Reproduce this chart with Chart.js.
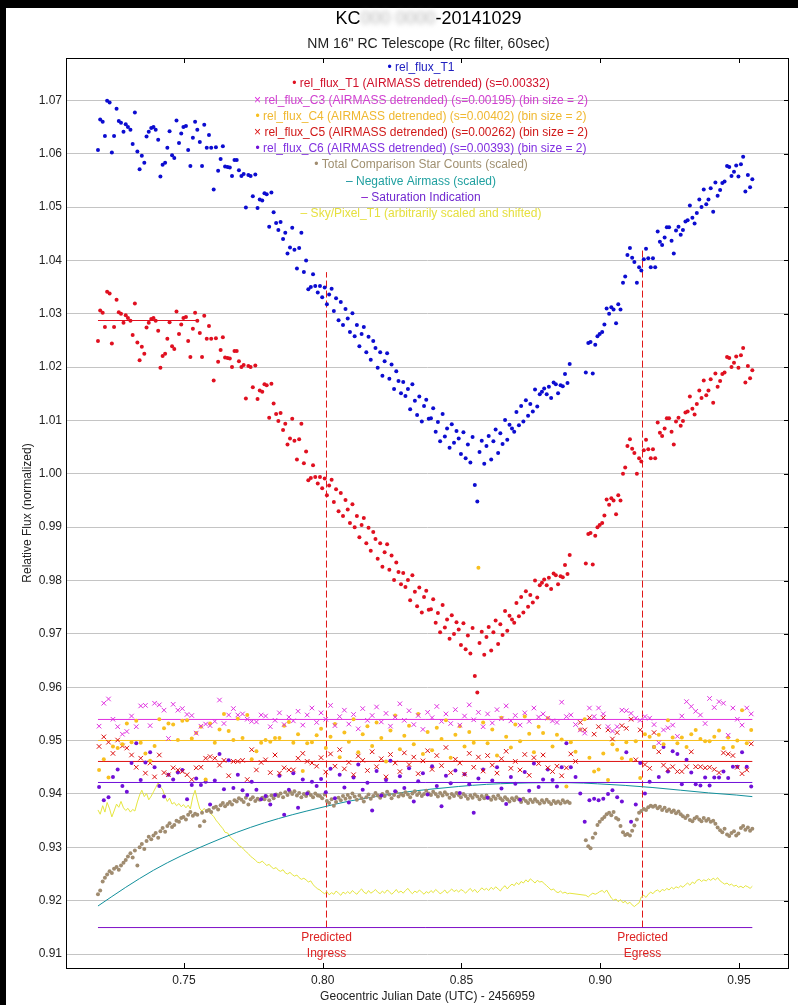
<!DOCTYPE html>
<html>
<head>
<meta charset="utf-8">
<title>KC-20141029 light curve</title>
<script src="https://cdn.jsdelivr.net/npm/chart.js@4.4.1/dist/chart.umd.min.js"></script>
<style>
  html, body { margin: 0; padding: 0; background: #000; overflow: hidden; }
  canvas { display: block; }
</style>
</head>
<body>
<canvas id="lc" width="798" height="1005"></canvas>
<script>
// ---- Exposure mid-times, GJD(UTC) - 2456959 ----
const jd = [
  0.7190,0.7198,0.7207,0.7215,0.7223,0.7232,0.7240,0.7248,0.7257,0.7265,0.7273,0.7282,
  0.7290,0.7298,0.7307,0.7315,0.7323,0.7332,0.7340,0.7348,0.7357,0.7365,0.7373,0.7382,
  0.7390,0.7398,0.7407,0.7415,0.7423,0.7432,0.7440,0.7448,0.7457,0.7465,0.7473,0.7482,
  0.7490,0.7498,0.7507,0.7515,0.7523,0.7532,0.7540,0.7548,0.7557,0.7565,0.7573,0.7582,
  0.7590,0.7598,0.7607,0.7615,0.7623,0.7632,0.7640,0.7648,0.7657,0.7665,0.7673,0.7682,
  0.7690,0.7698,0.7707,0.7715,0.7723,0.7732,0.7740,0.7748,0.7757,0.7765,0.7773,0.7782,
  0.7790,0.7798,0.7807,0.7815,0.7823,0.7832,0.7840,0.7848,0.7857,0.7865,0.7873,0.7882,
  0.7890,0.7898,0.7907,0.7915,0.7923,0.7932,0.7940,0.7948,0.7957,0.7965,0.7973,0.7982,
  0.7990,0.7998,0.8007,0.8015,0.8023,0.8032,0.8040,0.8048,0.8057,0.8065,0.8073,0.8082,
  0.8090,0.8098,0.8107,0.8115,0.8123,0.8132,0.8140,0.8148,0.8157,0.8165,0.8173,0.8182,
  0.8190,0.8198,0.8207,0.8215,0.8223,0.8232,0.8240,0.8248,0.8257,0.8265,0.8273,0.8282,
  0.8290,0.8298,0.8307,0.8315,0.8323,0.8332,0.8340,0.8348,0.8357,0.8365,0.8373,0.8382,
  0.8390,0.8398,0.8407,0.8415,0.8423,0.8432,0.8440,0.8448,0.8457,0.8465,0.8473,0.8482,
  0.8490,0.8498,0.8507,0.8515,0.8523,0.8532,0.8540,0.8548,0.8557,0.8565,0.8573,0.8582,
  0.8590,0.8598,0.8607,0.8615,0.8623,0.8632,0.8640,0.8648,0.8657,0.8665,0.8673,0.8682,
  0.8690,0.8698,0.8707,0.8715,0.8723,0.8732,0.8740,0.8748,0.8757,0.8765,0.8773,0.8782,
  0.8790,0.8798,0.8807,0.8815,0.8823,0.8832,0.8840,0.8848,0.8857,0.8865,0.8873,0.8882,
  0.8890,0.8948,0.8957,0.8965,0.8973,0.8982,
  0.8990,0.8998,0.9007,0.9015,0.9023,0.9032,0.9040,0.9048,0.9057,0.9065,0.9073,0.9082,
  0.9090,0.9098,0.9107,0.9115,0.9123,0.9132,0.9140,0.9148,0.9157,0.9165,0.9173,0.9182,
  0.9190,0.9198,0.9207,0.9215,0.9223,0.9232,0.9240,0.9248,0.9257,0.9265,0.9273,0.9282,
  0.9290,0.9298,0.9307,0.9315,0.9323,0.9332,0.9340,0.9348,0.9357,0.9365,0.9373,0.9382,
  0.9390,0.9398,0.9407,0.9415,0.9423,0.9432,0.9440,0.9448,0.9457,0.9465,0.9473,0.9482,
  0.9490,0.9498,0.9507,0.9515,0.9523,0.9532,0.9540,0.9548
];

// rel_flux_T1
const relFluxT1 = [
  1.0607,1.0664,1.0660,1.0633,1.0699,1.0696,1.0602,1.0633,1.0684,1.0661,1.0658,1.0641,
  1.0655,1.0650,1.0645,1.0618,1.0677,1.0604,1.0571,1.0596,1.0583,1.0632,1.0641,1.0648,
  1.0650,1.0645,1.0626,1.0557,1.0579,1.0583,1.0611,1.0642,1.0597,1.0592,1.0662,1.0620,
  1.0638,1.0650,1.0652,1.0607,1.0577,1.0630,1.0660,1.0645,1.0622,1.0577,1.0654,1.0611,
  1.0635,1.0611,1.0533,1.0612,1.0568,1.0590,1.0614,1.0576,1.0575,1.0574,1.0558,1.0588,
  1.0588,1.0569,1.0558,1.0562,1.0499,1.0560,1.0558,1.0520,1.0561,1.0498,1.0514,1.0512,
  1.0526,1.0524,1.0463,1.0527,1.0490,1.0470,1.0457,1.0472,1.0440,1.0452,1.0413,1.0424,
  1.0461,1.0420,1.0385,1.0423,1.0452,1.0378,1.0400,1.0346,1.0350,1.0374,1.0352,1.0340,
  1.0352,1.0331,1.0349,1.0318,1.0336,1.0347,1.0305,1.0329,1.0288,1.0322,1.0279,1.0309,
  1.0291,1.0266,1.0301,1.0258,1.0279,1.0239,1.0262,1.0275,1.0228,1.0257,1.0214,1.0249,
  1.0236,1.0199,1.0228,1.0184,1.0211,1.0226,1.0178,1.0205,1.0159,1.0192,1.0174,1.0151,
  1.0172,1.0146,1.0159,1.0121,1.0168,1.0137,1.0110,1.0145,1.0098,1.0127,1.0139,1.0103,
  1.0104,1.0123,1.0079,1.0097,1.0061,1.0112,1.0070,1.0085,1.0049,1.0093,1.0058,1.0080,
  1.0066,1.0037,1.0078,1.0029,1.0055,1.0021,1.0069,0.9979,0.9948,1.0041,1.0062,1.0019,
  1.0052,1.0071,1.0027,1.0061,1.0083,1.0039,1.0076,1.0056,1.0101,1.0064,1.0092,1.0085,
  1.0079,1.0116,1.0091,1.0127,1.0098,1.0138,1.0109,1.0131,1.0117,1.0158,1.0126,1.0149,
  1.0154,1.0160,1.0149,1.0163,1.0142,1.0171,1.0168,1.0151,1.0166,1.0164,1.0187,1.0170,
  1.0206,1.0190,1.0245,1.0247,1.0188,1.0242,
  1.0258,1.0262,1.0266,1.0280,1.0310,1.0300,1.0312,1.0308,1.0282,1.0318,1.0308,1.0358,
  1.0370,1.0410,1.0423,1.0405,1.0397,1.0358,1.0387,1.0381,1.0402,1.0422,1.0404,1.0387,
  1.0404,1.0387,1.0454,1.0435,1.0429,1.0443,1.0462,1.0462,1.0437,1.0413,1.0456,1.0463,
  1.0448,1.0457,1.0473,1.0475,1.0503,1.0480,1.0469,1.0489,1.0514,1.0500,1.0533,1.0505,
  1.0514,1.0535,1.0491,1.0546,1.0521,1.0532,1.0545,1.0548,1.0577,1.0575,1.0558,1.0566,
  1.0578,1.0557,1.0580,1.0594,1.0529,1.0560,1.0537,1.0552
];

// rel_flux_T1 (AIRMASS detrended)
const relFluxT1Detrended = [
  1.0249,1.0306,1.0302,1.0275,1.0341,1.0338,1.0244,1.0275,1.0326,1.0303,1.0300,1.0283,
  1.0297,1.0292,1.0287,1.0260,1.0319,1.0246,1.0213,1.0238,1.0225,1.0274,1.0283,1.0290,
  1.0292,1.0287,1.0268,1.0199,1.0221,1.0225,1.0253,1.0284,1.0239,1.0234,1.0304,1.0262,
  1.0280,1.0292,1.0294,1.0249,1.0219,1.0272,1.0302,1.0287,1.0264,1.0219,1.0296,1.0253,
  1.0277,1.0253,1.0175,1.0254,1.0210,1.0232,1.0256,1.0218,1.0217,1.0216,1.0200,1.0230,
  1.0230,1.0211,1.0200,1.0204,1.0141,1.0202,1.0200,1.0162,1.0203,1.0140,1.0156,1.0154,
  1.0168,1.0166,1.0105,1.0169,1.0132,1.0112,1.0099,1.0114,1.0082,1.0094,1.0055,1.0066,
  1.0103,1.0062,1.0027,1.0065,1.0094,1.0020,1.0042,0.9988,0.9992,1.0016,0.9994,0.9982,
  0.9994,0.9973,0.9991,0.9960,0.9978,0.9989,0.9947,0.9971,0.9930,0.9964,0.9921,0.9951,
  0.9933,0.9908,0.9943,0.9900,0.9921,0.9881,0.9904,0.9917,0.9870,0.9899,0.9856,0.9891,
  0.9878,0.9841,0.9870,0.9826,0.9853,0.9868,0.9820,0.9847,0.9801,0.9834,0.9816,0.9793,
  0.9814,0.9788,0.9801,0.9763,0.9810,0.9779,0.9752,0.9787,0.9740,0.9769,0.9781,0.9745,
  0.9746,0.9765,0.9721,0.9739,0.9703,0.9754,0.9712,0.9727,0.9691,0.9735,0.9700,0.9722,
  0.9708,0.9679,0.9720,0.9671,0.9697,0.9663,0.9711,0.9621,0.9590,0.9683,0.9704,0.9661,
  0.9694,0.9713,0.9669,0.9703,0.9725,0.9681,0.9718,0.9698,0.9743,0.9706,0.9734,0.9727,
  0.9721,0.9758,0.9733,0.9769,0.9740,0.9780,0.9751,0.9773,0.9759,0.9800,0.9768,0.9791,
  0.9796,0.9802,0.9791,0.9805,0.9784,0.9813,0.9810,0.9793,0.9808,0.9806,0.9829,0.9812,
  0.9848,0.9832,0.9887,0.9889,0.9830,0.9884,
  0.9900,0.9904,0.9908,0.9922,0.9952,0.9942,0.9954,0.9950,0.9924,0.9960,0.9950,1.0000,
  1.0012,1.0052,1.0065,1.0047,1.0039,1.0000,1.0029,1.0023,1.0044,1.0064,1.0046,1.0029,
  1.0046,1.0029,1.0096,1.0077,1.0071,1.0085,1.0104,1.0104,1.0079,1.0055,1.0098,1.0105,
  1.0090,1.0099,1.0115,1.0117,1.0145,1.0122,1.0111,1.0131,1.0156,1.0142,1.0175,1.0147,
  1.0156,1.0177,1.0133,1.0188,1.0163,1.0174,1.0187,1.0190,1.0219,1.0217,1.0200,1.0208,
  1.0220,1.0199,1.0222,1.0236,1.0171,1.0202,1.0179,1.0194
];

// Total Comparison Star Counts (scaled)
const totCompCounts = [
  0.9212,0.9219,0.9236,0.9243,0.9249,0.9255,0.9252,0.9260,0.9263,0.9258,0.9266,0.9271,
  0.9276,0.9283,0.9289,0.9281,0.9294,0.9266,0.9300,0.9306,0.9297,0.9312,0.9320,0.9315,
  0.9322,0.9327,0.9318,0.9330,0.9336,0.9329,0.9340,0.9345,0.9338,0.9342,0.9350,0.9348,
  0.9355,0.9357,0.9352,0.9361,0.9366,0.9359,0.9363,0.9361,0.9340,0.9365,0.9349,0.9368,
  0.9370,0.9366,0.9374,0.9376,0.9371,0.9379,0.9383,0.9377,0.9381,0.9385,0.9380,0.9388,
  0.9386,0.9392,0.9389,0.9385,0.9393,0.9380,0.9390,0.9394,0.9387,0.9391,0.9389,0.9393,
  0.9390,0.9395,0.9388,0.9397,0.9392,0.9399,0.9396,0.9401,0.9394,0.9403,0.9398,0.9404,
  0.9400,0.9405,0.9397,0.9402,0.9394,0.9400,0.9396,0.9403,0.9398,0.9394,0.9401,0.9397,
  0.9396,0.9392,0.9399,0.9387,0.9383,0.9390,0.9378,0.9385,0.9393,0.9388,0.9396,0.9391,
  0.9398,0.9393,0.9401,0.9395,0.9389,0.9397,0.9392,0.9386,0.9394,0.9399,0.9391,0.9396,
  0.9402,0.9397,0.9393,0.9400,0.9396,0.9404,0.9399,0.9392,0.9398,0.9403,0.9395,0.9400,
  0.9397,0.9403,0.9399,0.9394,0.9401,0.9405,0.9398,0.9402,0.9396,0.9400,0.9406,0.9401,
  0.9398,0.9404,0.9400,0.9395,0.9402,0.9397,0.9403,0.9399,0.9393,0.9400,0.9396,0.9402,
  0.9398,0.9394,0.9400,0.9396,0.9391,0.9397,0.9393,0.9399,0.9395,0.9390,0.9396,0.9392,
  0.9397,0.9393,0.9389,0.9395,0.9391,0.9397,0.9392,0.9388,0.9394,0.9390,0.9386,0.9392,
  0.9388,0.9394,0.9390,0.9385,0.9391,0.9387,0.9383,0.9389,0.9385,0.9390,0.9386,0.9382,
  0.9388,0.9384,0.9389,0.9385,0.9381,0.9387,0.9383,0.9386,0.9382,0.9388,0.9384,0.9386,
  0.9383,0.9313,0.9302,0.9298,0.9318,0.9326,
  0.9342,0.9348,0.9353,0.9357,0.9362,0.9365,0.9360,0.9366,0.9355,0.9352,0.9340,0.9328,
  0.9323,0.9325,0.9322,0.9331,0.9341,0.9352,0.9365,0.9368,0.9372,0.9370,0.9375,0.9378,
  0.9376,0.9378,0.9373,0.9376,0.9370,0.9374,0.9368,0.9371,0.9366,0.9369,0.9364,0.9367,
  0.9362,0.9358,0.9355,0.9359,0.9351,0.9349,0.9354,0.9357,0.9352,0.9349,0.9355,0.9350,
  0.9353,0.9348,0.9350,0.9344,0.9337,0.9332,0.9328,0.9335,0.9324,0.9321,0.9327,0.9330,
  0.9322,0.9326,0.9336,0.9340,0.9333,0.9337,0.9331,0.9335
];

// Sky/Pixel_T1 (arbitrarily scaled and shifted)
const skyPerPixel = [
  0.9370,0.9362,0.9378,0.9366,0.9384,0.9372,0.9357,0.9368,0.9381,0.9375,0.9386,0.9374,
  0.9369,0.9373,0.9366,0.9371,0.9368,0.9385,0.9398,0.9407,0.9395,0.9401,0.9389,0.9396,
  0.9404,0.9412,0.9421,0.9413,0.9408,0.9395,0.9386,0.9392,0.9381,0.9384,0.9378,0.9382,
  0.9376,0.9380,0.9374,0.9379,0.9372,0.9395,0.9407,0.9389,0.9372,0.9368,0.9373,0.9366,
  0.9370,0.9362,0.9358,0.9351,0.9346,0.9340,0.9335,0.9328,0.9327,0.9320,0.9316,0.9312,
  0.9309,0.9303,0.9301,0.9296,0.9292,0.9288,0.9283,0.9280,0.9276,0.9272,0.9271,0.9274,
  0.9270,0.9266,0.9268,0.9263,0.9260,0.9262,0.9257,0.9255,0.9258,0.9252,0.9250,0.9253,
  0.9249,0.9246,0.9248,0.9243,0.9240,0.9242,0.9239,0.9235,0.9237,0.9230,0.9226,0.9222,
  0.9220,0.9216,0.9213,0.9217,0.9211,0.9215,0.9212,0.9218,0.9214,0.9210,0.9216,0.9213,
  0.9217,0.9213,0.9219,0.9215,0.9212,0.9218,0.9222,0.9216,0.9213,0.9219,0.9214,0.9217,
  0.9221,0.9216,0.9213,0.9218,0.9214,0.9220,0.9217,0.9212,0.9216,0.9221,0.9215,0.9218,
  0.9214,0.9219,0.9223,0.9217,0.9213,0.9218,0.9215,0.9220,0.9216,0.9212,0.9217,0.9214,
  0.9219,0.9215,0.9221,0.9217,0.9213,0.9216,0.9220,0.9214,0.9218,0.9222,0.9217,0.9220,
  0.9216,0.9221,0.9218,0.9214,0.9219,0.9223,0.9217,0.9221,0.9215,0.9219,0.9224,0.9220,
  0.9223,0.9219,0.9225,0.9221,0.9226,0.9222,0.9218,0.9224,0.9228,0.9222,0.9227,0.9231,
  0.9228,0.9234,0.9230,0.9236,0.9233,0.9239,0.9235,0.9241,0.9237,0.9233,0.9238,0.9235,
  0.9236,0.9232,0.9228,0.9224,0.9220,0.9222,0.9217,0.9215,0.9218,0.9214,0.9216,0.9213,
  0.9214,0.9210,0.9207,0.9211,0.9214,0.9212,
  0.9214,0.9217,0.9219,0.9215,0.9220,0.9212,0.9205,0.9201,0.9203,0.9198,0.9202,0.9196,
  0.9199,0.9194,0.9197,0.9192,0.9189,0.9193,0.9196,0.9207,0.9210,0.9206,0.9212,0.9216,
  0.9213,0.9218,0.9220,0.9216,0.9221,0.9219,0.9223,0.9220,0.9225,0.9222,0.9226,0.9224,
  0.9228,0.9225,0.9230,0.9233,0.9229,0.9235,0.9232,0.9238,0.9240,0.9236,0.9239,0.9237,
  0.9241,0.9238,0.9242,0.9239,0.9243,0.9237,0.9234,0.9231,0.9233,0.9229,0.9231,0.9227,
  0.9229,0.9225,0.9227,0.9224,0.9228,0.9226,0.9223,0.9227
];

// Bin centres for the comparison stars (bin size = 2)
const jdBinned = [
  0.7194,0.7211,0.7228,0.7244,0.7261,0.7278, 0.7294,0.7311,0.7328,0.7344,0.7361,0.7378,
  0.7394,0.7411,0.7428,0.7444,0.7461,0.7478, 0.7494,0.7511,0.7528,0.7544,0.7561,0.7578,
  0.7594,0.7611,0.7628,0.7644,0.7661,0.7678, 0.7694,0.7711,0.7728,0.7744,0.7761,0.7778,
  0.7794,0.7811,0.7828,0.7844,0.7861,0.7878, 0.7894,0.7911,0.7928,0.7944,0.7961,0.7978,
  0.7994,0.8011,0.8028,0.8044,0.8061,0.8078, 0.8094,0.8111,0.8128,0.8144,0.8161,0.8178,
  0.8194,0.8211,0.8228,0.8244,0.8261,0.8278, 0.8294,0.8311,0.8328,0.8344,0.8361,0.8378,
  0.8394,0.8411,0.8428,0.8444,0.8461,0.8478, 0.8494,0.8511,0.8528,0.8544,0.8561,0.8578,
  0.8594,0.8611,0.8628,0.8644,0.8661,0.8678, 0.8694,0.8711,0.8728,0.8744,0.8761,0.8778,
  0.8794,0.8811,0.8828,0.8844,0.8861,0.8878, 0.8894,0.8911,0.8928,0.8944,0.8961,0.8978,
  0.8994,0.9011,0.9028,0.9044,0.9061,0.9078, 0.9094,0.9111,0.9128,0.9144,0.9161,0.9178,
  0.9194,0.9211,0.9228,0.9244,0.9261,0.9278, 0.9294,0.9311,0.9328,0.9344,0.9361,0.9378,
  0.9394,0.9411,0.9428,0.9444,0.9461,0.9478, 0.9494,0.9511,0.9528,0.9544
];

// rel_flux_C3 (AIRMASS detrended), binned
const relFluxC3 = [
  0.9527,0.9570,0.9578,0.9540,0.9526,0.9512, 0.9517,0.9546,0.9526,0.9565,0.9566,0.9528,
  0.9570,0.9567,0.9557,0.9504,0.9568,0.9557, 0.9560,0.9549,0.9547,0.9514,0.9527,0.9531,
  0.9528,0.9536,0.9576,0.9532,0.9548,0.9560, 0.9548,0.9550,0.9540,0.9536,0.9535,0.9548,
  0.9546,0.9526,0.9538,0.9552,0.9530,0.9544, 0.9537,0.9555,0.9529,0.9548,0.9561,0.9534,
  0.9552,0.9540,0.9566,0.9528,0.9545,0.9557, 0.9531,0.9549,0.9522,0.9560,0.9538,0.9547,
  0.9563,0.9535,0.9551,0.9527,0.9544,0.9569, 0.9538,0.9556,0.9530,0.9547,0.9521,0.9553,
  0.9543,0.9564,0.9536,0.9550,0.9532,0.9558, 0.9529,0.9546,0.9567,0.9539,0.9553,0.9526,
  0.9550,0.9533,0.9558,0.9541,0.9565,0.9537, 0.9547,0.9529,0.9552,0.9536,0.9561,0.9544,
  0.9550,0.9542,0.9537,0.9534,0.9572,0.9545, 0.9548,0.9530,0.9520,0.9514,0.9561,0.9545,
  0.9561,0.9550,0.9526,0.9518,0.9526,0.9557, 0.9556,0.9551,0.9542,0.9538,0.9545,0.9542,
  0.9530,0.9496,0.9520,0.9524,0.9529,0.9508, 0.9546,0.9573,0.9564,0.9555,0.9548,0.9532,
  0.9579,0.9562,0.9573,0.9570,0.9510,0.9561, 0.9540,0.9529,0.9561,0.9550
];

// rel_flux_C4 (AIRMASS detrended), binned
const relFluxC4 = [
  0.9445,0.9465,0.9431,0.9489,0.9486,0.9493, 0.9532,0.9497,0.9537,0.9496,0.9476,0.9462,
  0.9490,0.9540,0.9523,0.9532,0.9530,0.9501, 0.9537,0.9538,0.9504,0.9514,0.9526,0.9427,
  0.9532,0.9496,0.9521,0.9550,0.9518,0.9501, 0.9541,0.9505,0.9548,0.9465,0.9480,0.9496,
  0.9501,0.9498,0.9505,0.9505,0.9528,0.9535, 0.9496,0.9512,0.9443,0.9495,0.9497,0.9510,
  0.9522,0.9486,0.9507,0.9531,0.9469,0.9515, 0.9498,0.9540,0.9478,0.9512,0.9527,0.9490,
  0.9534,0.9505,0.9461,0.9519,0.9547,0.9484, 0.9509,0.9528,0.9493,0.9550,0.9475,0.9516,
  0.9482,0.9524,0.9503,0.9538,0.9468,0.9511, 0.9527,0.9489,0.9516,0.9496,0.9824,0.9534,
  0.9495,0.9521,0.9472,0.9543,0.9507,0.9487, 0.9530,0.9499,0.9545,0.9513,0.9478,0.9526,
  0.9514,0.9542,0.9489,0.9511,0.9502,0.9414, 0.9497,0.9479,0.9521,0.9540,0.9468,0.9442,
  0.9446,0.9476,0.9426,0.9493,0.9483,0.9467, 0.9497,0.9464,0.9499,0.9430,0.9512,0.9507,
  0.9488,0.9511,0.9493,0.9538,0.9506,0.9495, 0.9506,0.9488,0.9512,0.9520,0.9503,0.9499,
  0.9499,0.9507,0.9519,0.9486,0.9506,0.9488, 0.9500,0.9557,0.9495,0.9520
];

// rel_flux_C5 (AIRMASS detrended), binned
const relFluxC5 = [
  0.9489,0.9507,0.9497,0.9476,0.9501,0.9490, 0.9486,0.9473,0.9450,0.9467,0.9439,0.9458,
  0.9432,0.9473,0.9440,0.9436,0.9449,0.9445, 0.9442,0.9436,0.9427,0.9449,0.9450,0.9467,
  0.9470,0.9467,0.9454,0.9463,0.9434,0.9461, 0.9461,0.9463,0.9427,0.9483,0.9445,0.9459,
  0.9464,0.9440,0.9473,0.9439,0.9449,0.9445, 0.9445,0.9467,0.9476,0.9461,0.9458,0.9452,
  0.9468,0.9441,0.9475,0.9452,0.9483,0.9447, 0.9459,0.9436,0.9471,0.9463,0.9444,0.9479,
  0.9451,0.9466,0.9432,0.9474,0.9458,0.9442, 0.9477,0.9455,0.9469,0.9438,0.9462,0.9481,
  0.9446,0.9472,0.9453,0.9487,0.9440,0.9465, 0.9458,0.9437,0.9476,0.9450,0.9469,0.9443,
  0.9472,0.9454,0.9439,0.9466,0.9480,0.9448, 0.9461,0.9445,0.9474,0.9435,0.9468,0.9457,
  0.9473,0.9449,0.9442,0.9452,0.9434,0.9449, 0.9475,0.9461,0.9534,0.9520,0.9543,0.9512,
  0.9526,0.9543,0.9520,0.9503,0.9515,0.9528, 0.9523,0.9540,0.9464,0.9520,0.9455,0.9448,
  0.9515,0.9479,0.9454,0.9446,0.9451,0.9442, 0.9442,0.9451,0.9479,0.9451,0.9451,0.9449,
  0.9450,0.9446,0.9440,0.9477,0.9475,0.9472, 0.9450,0.9438,0.9445,0.9494
];

// rel_flux_C6 (AIRMASS detrended), binned
const relFluxC6 = [
  0.9413,0.9388,0.9394,0.9432,0.9446,0.9415, 0.9404,0.9458,0.9495,0.9426,0.9459,0.9478,
  0.9450,0.9415,0.9395,0.9436,0.9427,0.9440, 0.9445,0.9390,0.9417,0.9429,0.9417,0.9423,
  0.9380,0.9425,0.9475,0.9409,0.9463,0.9411, 0.9436,0.9407,0.9398,0.9423,0.9408,0.9390,
  0.9396,0.9380,0.9398,0.9434,0.9361,0.9408, 0.9439,0.9374,0.9427,0.9401,0.9423,0.9415,
  0.9428,0.9403,0.9447,0.9392,0.9436,0.9412, 0.9384,0.9431,0.9455,0.9408,0.9421,0.9369,
  0.9443,0.9397,0.9426,0.9462,0.9405,0.9433, 0.9411,0.9448,0.9386,0.9424,0.9439,0.9399,
  0.9452,0.9415,0.9377,0.9434,0.9420,0.9444, 0.9402,0.9437,0.9418,0.9365,0.9429,0.9446,
  0.9393,0.9425,0.9450,0.9410,0.9381,0.9432, 0.9419,0.9389,0.9441,0.9406,0.9457,0.9413,
  0.9427,0.9446,0.9426,0.9414,0.9450,0.9495, 0.9450,0.9432,0.9401,0.9348,0.9388,0.9391,
  0.9388,0.9391,0.9400,0.9407,0.9394,0.9386, 0.9478,0.9348,0.9380,0.9458,0.9401,0.9423,
  0.9488,0.9432,0.9488,0.9442,0.9480,0.9475, 0.9418,0.9464,0.9440,0.9418,0.9416,0.9431,
  0.9416,0.9431,0.9431,0.9442,0.9430,0.9451, 0.9451,0.9478,0.9451,0.9414
];

// Negative Airmass (scaled)
const airmassJd  = [0.7190,0.7290,0.7390,0.7490,0.7590,0.7690,0.7790,0.7890,0.7990,0.8090,0.8190,0.8290,0.8390,
                    0.8490,0.8590,0.8690,0.8790,0.8890,0.8990,0.9090,0.9190,0.9290,0.9390,0.9490,0.9548];
const negAirmass = [0.9190,0.9225,0.9257,0.9284,0.9307,0.9328,0.9346,0.9361,0.9374,0.9386,0.9395,0.9403,0.9409,
                    0.9414,0.9418,0.9420,0.9421,0.9421,0.9419,0.9416,0.9412,0.9407,0.9402,0.9398,0.9395];

// Mean levels of the detrended comparison stars, the T1 pre-ingress baseline and saturation
const compMeans   = [0.95396, 0.95002, 0.94609, 0.94215];   // C3, C4, C5, C6
const t1Baseline  = [0.7190, 0.7545, 1.02873];               // from, to, level
const saturationLevel = 0.91496;

// Predicted ingress / egress
const predictedJd    = [0.80135, 0.91523];
const predictedTop   = [1.0378, 1.0423];
const predictedNames = ['Ingress', 'Egress'];

// Axis ticks
const xTicks = [0.75, 0.80, 0.85, 0.90, 0.95];
const yTicks = [0.91,0.92,0.93,0.94,0.95,0.96,0.97,0.98,0.99,1.00,1.01,1.02,1.03,1.04,1.05,1.06,1.07];

// Legend lines
const legendSymbols = ['•', '•', '×', '•', '×', '•', '•', '–', '–', '–'];
const legendLabels = [
  'rel_flux_T1',
  'rel_flux_T1 (AIRMASS detrended) (s=0.00332)',
  'rel_flux_C3 (AIRMASS detrended) (s=0.00195) (bin size = 2)',
  'rel_flux_C4 (AIRMASS detrended) (s=0.00402) (bin size = 2)',
  'rel_flux_C5 (AIRMASS detrended) (s=0.00262) (bin size = 2)',
  'rel_flux_C6 (AIRMASS detrended) (s=0.00393) (bin size = 2)',
  'Total Comparison Star Counts (scaled)',
  'Negative Airmass (scaled)',
  'Saturation Indication',
  'Sky/Pixel_T1 (arbitrarily scaled and shifted)'
];

// ---------------------------------------------------------------
const FONT = "'Liberation Sans', Arial, Helvetica, sans-serif";
const COL = {
  t1: '#0c0cd0', t1d: '#e01020', c3: '#e030e0', c4: '#f8c020', c5: '#dd1010',
  c6: '#7010d8', comp: '#a08c70', air: '#12909c', sat: '#8010c8', sky: '#e6e640',
  pred: '#e01818'
};
const legendColors = [
  ['#0c0cd0', '#2020c0'], ['#e01020', '#d0102a'], ['#e030e0', '#d040d0'],
  ['#f8c020', '#f0b830'], ['#dd1010', '#d01818'], ['#7010d8', '#8030e0'],
  ['#a08c70', '#a09070'], ['#12909c', '#20a0a0'], ['#8010c8', '#7028d0'],
  ['#e8e040', '#e6e040']
];

const xy = (xs, ys) => ys.map((y, i) => ({ x: xs[i], y }));
const firstJd = jd[0], lastJd = jd[jd.length - 1];
const hline = (x0, x1, y) => [{ x: x0, y }, { x: x1, y }];

const dots = (label, data, color, r) => ({
  label, data, showLine: false, pointStyle: 'circle', pointRadius: r || 2,
  pointBackgroundColor: color, pointBorderColor: color, pointBorderWidth: 0
});
const crosses = (label, data, color) => ({
  label, data, showLine: false, pointStyle: 'crossRot', pointRadius: 3.2,
  pointBorderColor: color, pointBackgroundColor: color, pointBorderWidth: 1
});
const line = (label, data, color, extra) => Object.assign({
  label, data, showLine: true, pointRadius: 0, borderColor: color, borderWidth: 1,
  backgroundColor: color, fill: false, tension: 0
}, extra || {});

const datasets = [
  dots('rel_flux_T1', xy(jd, relFluxT1), COL.t1),
  dots('rel_flux_T1 detrended', xy(jd, relFluxT1Detrended), COL.t1d),
  crosses('rel_flux_C3', xy(jdBinned, relFluxC3), COL.c3),
  dots('rel_flux_C4', xy(jdBinned, relFluxC4), COL.c4),
  crosses('rel_flux_C5', xy(jdBinned, relFluxC5), COL.c5),
  dots('rel_flux_C6', xy(jdBinned, relFluxC6), COL.c6),
  dots('Total Comparison Star Counts', xy(jd, totCompCounts), COL.comp),
  line('T1 baseline', hline(t1Baseline[0], t1Baseline[1], t1Baseline[2]), COL.t1d),
  line('C3 mean', hline(firstJd, lastJd, compMeans[0]), COL.c3),
  line('C4 mean', hline(firstJd, lastJd, compMeans[1]), COL.c4),
  line('C5 mean', hline(firstJd, lastJd, compMeans[2]), COL.c5),
  line('C6 mean', hline(firstJd, lastJd, compMeans[3]), COL.c6),
  line('Negative Airmass', xy(airmassJd, negAirmass), COL.air, { cubicInterpolationMode: 'monotone' }),
  line('Saturation Indication', hline(firstJd, lastJd, saturationLevel), COL.sat),
  line('Sky/Pixel_T1', xy(jd, skyPerPixel), COL.sky),
  ...predictedJd.map((t, i) => line('Predicted ' + predictedNames[i],
      [{ x: t, y: saturationLevel }, { x: t, y: predictedTop[i] }], COL.pred, { borderDash: [7, 3] }))
];

// Page frame, plot border, inner tick marks, title, legend and ingress/egress captions
const decorations = {
  id: 'decorations',
  beforeDraw(chart) {
    const { ctx, width, height } = chart;
    ctx.save();
    ctx.fillStyle = '#000';
    ctx.fillRect(0, 0, width, height);
    ctx.fillStyle = '#fff';
    ctx.fillRect(6, 8, width - 6, height - 8);
    ctx.restore();
  },
  afterDraw(chart) {
    const { ctx, chartArea: a, scales: { x, y } } = chart;
    ctx.save();

    // plot frame
    ctx.strokeStyle = '#000';
    ctx.lineWidth = 1;
    ctx.strokeRect(a.left - 0.5, a.top + 0.5, a.right - a.left + 1, a.bottom - a.top);

    // x tick marks pointing into the plot, bottom and top
    ctx.beginPath();
    xTicks.forEach(v => {
      const px = Math.round(x.getPixelForValue(v)) + 0.5;
      ctx.moveTo(px, a.bottom); ctx.lineTo(px, a.bottom - 5);
      ctx.moveTo(px, a.top); ctx.lineTo(px, a.top + 5);
    });
    // y tick marks on the right edge
    yTicks.forEach(v => {
      const py = Math.round(y.getPixelForValue(v)) + 0.5;
      ctx.moveTo(a.right, py); ctx.lineTo(a.right - 4, py);
    });
    ctx.stroke();

    // title with the masked part of the object name
    ctx.textBaseline = 'middle';
    ctx.textAlign = 'left';
    ctx.font = `18px ${FONT}`;
    const tParts = ['KC', '000 0000', '-20141029'];
    const tW = tParts.map(s => ctx.measureText(s).width);
    let tx = 428.5 - (tW[0] + tW[1] + tW[2]) / 2;
    ctx.fillStyle = '#000';
    ctx.fillText(tParts[0], tx, 19);
    tx += tW[0];
    ctx.save();
    ctx.filter = 'blur(2.5px)';
    ctx.fillStyle = '#b4b4b4';
    ctx.fillText(tParts[1], tx, 19);
    ctx.restore();
    tx += tW[1];
    ctx.fillStyle = '#000';
    ctx.fillText(tParts[2], tx, 19);

    ctx.textAlign = 'center';
    ctx.font = `14px ${FONT}`;
    ctx.fillStyle = '#222';
    ctx.fillText('NM 16" RC Telescope (Rc filter, 60sec)', 428.5, 44);

    // legend
    ctx.textAlign = 'left';
    ctx.font = `12px ${FONT}`;
    legendLabels.forEach((t, i) => {
      const sym = legendSymbols[i] + ' ';
      const ws = ctx.measureText(sym).width;
      const wt = ctx.measureText(t).width;
      const lx = 421 - (ws + wt) / 2;
      const ly = 67.8 + i * 16.22;
      ctx.fillStyle = legendColors[i][0];
      ctx.fillText(sym, lx, ly);
      ctx.fillStyle = legendColors[i][1];
      ctx.fillText(t, lx + ws, ly);
    });

    // predicted ingress / egress captions
    ctx.textAlign = 'center';
    ctx.fillStyle = '#dd2222';
    predictedJd.forEach((t, i) => {
      const px = x.getPixelForValue(t);
      ctx.fillText('Predicted', px, 938);
      ctx.fillText(predictedNames[i], px, 954);
    });
    ctx.restore();
  }
};

const tickFont = { family: FONT, size: 12 };

new Chart(document.getElementById('lc'), {
  type: 'scatter',
  data: { datasets },
  options: {
    responsive: false,
    animation: false,
    events: [],
    layout: { padding: { left: 6, top: 58, right: 10, bottom: 0 }, autoPadding: false },
    plugins: { legend: { display: false }, tooltip: { enabled: false }, title: { display: false } },
    scales: {
      x: {
        type: 'linear', min: 0.70784, max: 0.96766,
        afterBuildTicks: s => { s.ticks = xTicks.map(v => ({ value: v })); },
        afterFit: s => { s.height = 37; },
        grid: { display: false, drawTicks: false },
        border: { display: false },
        ticks: { font: tickFont, color: '#222', padding: 5, maxRotation: 0, autoSkip: false,
                 callback: v => Number(v).toFixed(2) },
        title: { display: true, text: 'Geocentric Julian Date (UTC) - 2456959',
                 font: tickFont, color: '#222', padding: { top: 0, bottom: 1 } }
      },
      y: {
        type: 'linear', min: 0.90738, max: 1.07793,
        afterBuildTicks: s => { s.ticks = yTicks.map(v => ({ value: v })); },
        afterFit: s => { s.width = 61; },
        grid: { color: '#c4c4c4', lineWidth: 1, drawTicks: false },
        border: { display: false },
        ticks: { font: tickFont, color: '#222', padding: 5, autoSkip: false,
                 callback: v => Number(v).toFixed(2) },
        title: { display: true, text: 'Relative Flux (normalized)',
                 font: tickFont, color: '#222', padding: { top: 14, bottom: 0 } }
      }
    }
  },
  plugins: [decorations]
});
</script>
</body>
</html>
